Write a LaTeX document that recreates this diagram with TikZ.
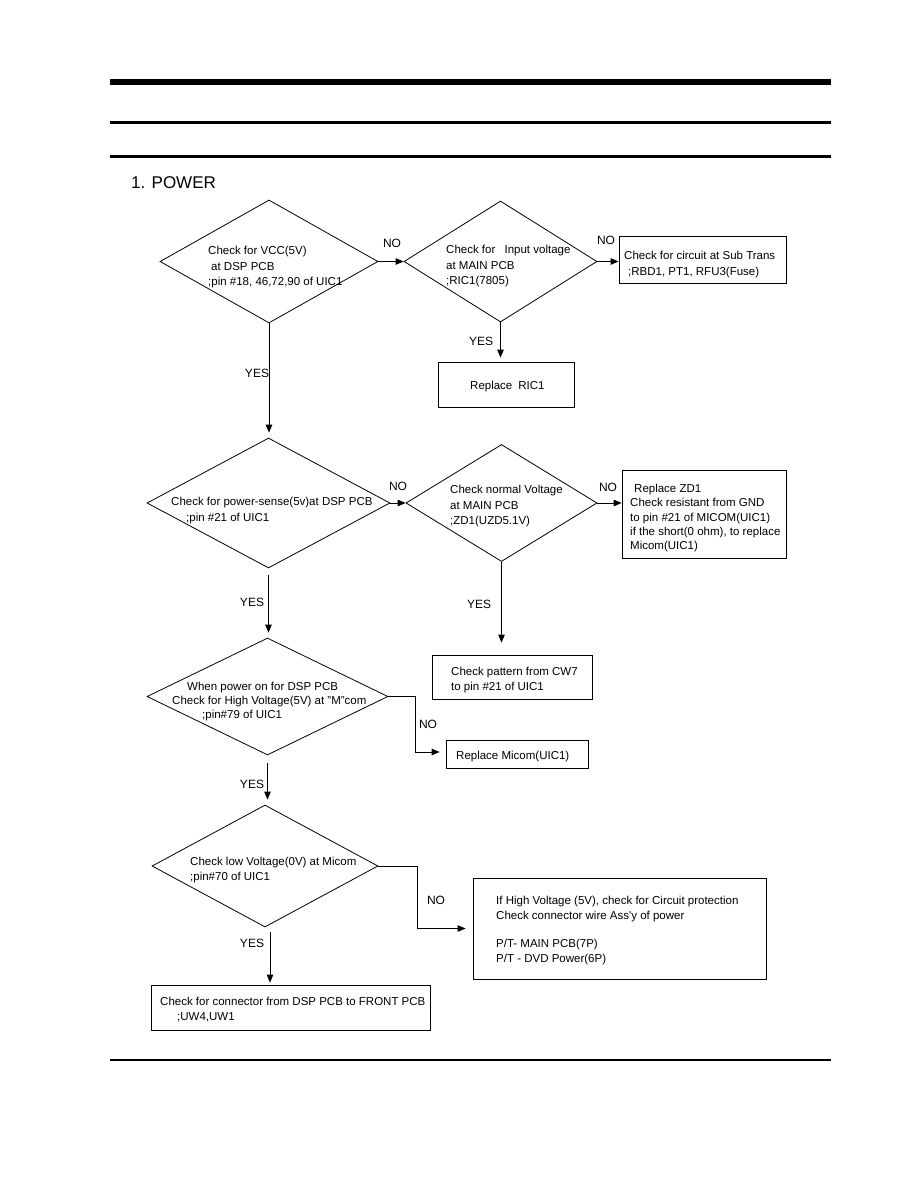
\documentclass[tikz,border=0pt]{standalone}
\usepackage{fontspec}
\setmainfont{Liberation Sans}
\usetikzlibrary{shapes.geometric,arrows.meta,calc}
\begin{document}
\begin{tikzpicture}[x=1pt,y=-1pt,
 dia/.style={draw,shape=diamond,inner sep=0pt,line width=0.8pt},
 box/.style={draw,rectangle,inner sep=0pt,line width=0.8pt},
 txt/.style={anchor=north west,inner sep=0pt,align=left,font=\fontsize{11.5}{15.5}\selectfont},
 lbl/.style={inner sep=0pt,font=\fontsize{12}{14}\selectfont},
 arr/.style={line width=0.8pt,-{Triangle[length=8pt,width=6.5pt]}},
 rule/.style={line width=#1}]
\fill[white] (0,0) rectangle (918,1188);
\useasboundingbox (0,0) rectangle (918,1188);
% page rules
\draw[rule=6pt] (110,82) -- (831,82);
\draw[rule=3pt] (110,122.5) -- (831,122.5);
\draw[rule=3pt] (110,156.5) -- (831,156.5);
\draw[rule=2.5pt] (110,1060) -- (831,1060);
\node[anchor=west,inner sep=0pt,font=\fontsize{17}{20}\selectfont] (title) at (131,183) {1. POWER};
% shapes
\node[dia,minimum width=218pt,minimum height=123pt] (d1) at (269,261.5) {};
\node[dia,minimum width=193pt,minimum height=121pt] (d2) at (500.5,261.5) {};
\node[box,minimum width=167pt,minimum height=47pt] (b1) at (702.5,259.5) {};
\node[box,minimum width=136pt,minimum height=45pt] (b2) at (506,384.5) {};
\node[dia,minimum width=243pt,minimum height=130pt] (d3) at (268.5,503) {};
\node[dia,minimum width=191pt,minimum height=117pt] (d4) at (501.5,503) {};
\node[box,minimum width=164pt,minimum height=88pt] (b3) at (704,514) {};
\node[box,minimum width=160pt,minimum height=44pt] (b4) at (512,677) {};
\node[dia,minimum width=241pt,minimum height=117pt] (d5) at (267.5,696.5) {};
\node[box,minimum width=142pt,minimum height=28pt] (b5) at (517,754) {};
\node[dia,minimum width=226pt,minimum height=122pt] (d6) at (265,866) {};
\node[box,minimum width=293pt,minimum height=101pt] (b6) at (619.5,928.5) {};
\node[box,minimum width=279pt,minimum height=45pt] (b7) at (290.5,1007.5) {};
% texts
\node[txt] (t1) at (208,246) {Check for VCC(5V)\\\hspace*{3pt}at DSP PCB\\;pin \#18, 46,72,90 of UIC1};
\node[txt] (t2) at (446,245) {Check for \hspace{6pt}Input voltage\\at MAIN PCB\\;RIC1(7805)};
\node[txt] (t3) at (624,251) {Check for circuit at Sub Trans\\\hspace*{4pt};RBD1, PT1, RFU3(Fuse)};
\node[txt] (t4) at (470,381) {Replace\hspace{6pt}RIC1};
\node[txt] (t5) at (171,497) {Check for power-sense(5v)at DSP PCB\\\hspace*{15pt};pin \#21 of UIC1};
\node[txt] (t6) at (450,485) {Check normal Voltage\\at MAIN PCB\\;ZD1(UZD5.1V)};
\node[txt,font=\fontsize{11.5}{14.3}\selectfont] (t7) at (630,484) {\hspace*{4pt}Replace ZD1\\Check resistant from GND\\to pin \#21 of MICOM(UIC1)\\if the short(0 ohm), to replace\\Micom(UIC1)};
\node[txt,font=\fontsize{11.5}{15}\selectfont] (t8) at (451,667) {Check pattern from CW7\\to pin \#21 of UIC1};
\node[txt,font=\fontsize{11.5}{14.2}\selectfont] (t9) at (172,682) {\hspace*{15pt}When power on for DSP PCB\\Check for High Voltage(5V) at "M"com\\\hspace*{30pt};pin\#79 of UIC1};
\node[txt] (t10) at (456,751) {Replace Micom(UIC1)};
\node[txt,font=\fontsize{11.5}{15}\selectfont] (t11) at (190,857) {Check low Voltage(0V) at Micom\\;pin\#70 of UIC1};
\node[txt,font=\fontsize{11.5}{15}\selectfont] (t12) at (496,896) {If High Voltage (5V), check for Circuit protection\\Check connector wire Ass\textquotesingle y of power\\[13pt]P/T- MAIN PCB(7P)\\P/T - DVD Power(6P)};
\node[txt,font=\fontsize{11.5}{15}\selectfont] (t13) at (160,997) {Check for connector from DSP PCB to FRONT PCB\\\hspace*{17pt};UW4,UW1};
% labels
\node[lbl] (n1) at (392,243) {NO};
\node[lbl] (n2) at (606,240) {NO};
\node[lbl] (y1) at (481,341) {YES};
\node[lbl] (y2) at (257,373) {YES};
\node[lbl] (n3) at (398,486) {NO};
\node[lbl] (n4) at (608,487) {NO};
\node[lbl] (y3) at (479,604) {YES};
\node[lbl] (y4) at (252,602) {YES};
\node[lbl] (n5) at (428,724) {NO};
\node[lbl] (y5) at (252,784) {YES};
\node[lbl] (n6) at (436,900) {NO};
\node[lbl] (y6) at (252,943) {YES};
% connectors
\coordinate (c5) at (415,752);
\coordinate (c6) at (417,928.5);
\draw[arr] (d1.east) -- (d1.east -| d2.west);
\draw[arr] (d2.east) -- (d2.east -| b1.west);
\draw[arr] (d3.east) -- (d3.east -| d4.west);
\draw[arr] (d4.east) -- (d4.east -| b3.west);
\draw[arr,shorten >=5pt] (d1.south) -- (d1.south |- d3.north);
\draw[arr,shorten >=4pt] (d2.south) -- (d2.south |- b2.north);
\draw[arr,shorten <=7pt,shorten >=5pt] (d3.south) -- (d3.south |- d5.north);
\draw[arr,shorten >=12pt] (d4.south) -- (d4.south |- b4.north);
\draw[arr,shorten <=8pt,shorten >=5pt] (d5.south) -- (d5.south |- d6.north);
\draw[arr,shorten <=5pt,shorten >=2pt] ([xshift=5pt]d6.south) -- ([xshift=5pt]d6.south |- b7.north);
\draw[arr,shorten >=6pt] (d5.east) -- (d5.east -| c5) -- (c5) -- (c5 -| b5.west);
\draw[arr,shorten >=7pt] (d6.east) -- (d6.east -| c6) -- (c6) -- (c6 -| b6.west);
\end{tikzpicture}
\end{document}
